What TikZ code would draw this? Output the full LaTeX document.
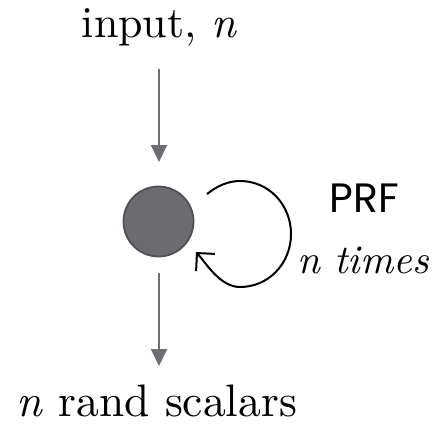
\documentclass[tikz,border=0pt]{standalone}
\usepackage{fontspec}
\setmainfont{lmroman10-regular.otf}[ItalicFont=lmroman10-italic.otf]
\newfontfamily\prffont{Poppins}
\usetikzlibrary{arrows.meta}

\definecolor{nodefill}{HTML}{6C6B70}
\definecolor{nodeedge}{HTML}{505055}
\definecolor{flowgray}{HTML}{6D6D72}

\tikzset{
  flow/.style={draw=flowgray, line width=2pt, -{Triangle[length=17pt,width=16pt]}},
  loopline/.style={draw=black, line width=2pt,
                   -{Straight Barb[angle=90:18pt,line width=2pt]}},
  bigtext/.style={inner sep=0pt, font=\fontsize{44}{50}\selectfont},
  state/.style={circle, fill=nodefill, draw=nodeedge, line width=1.8pt,
                minimum size=70pt, inner sep=0pt},
}

\begin{document}
\begin{tikzpicture}[x=1pt, y=-1pt]
  \useasboundingbox (0,0) rectangle (442,424);

  % labels
  \node[bigtext, anchor=base] (inp) at (159.5,37) {input, \textit{n}};
  \node[bigtext, anchor=base, font=\fontsize{45.5}{50}\selectfont] (out) at (157,416) {\textit{n} rand scalars};
  \node[inner sep=0pt, anchor=base, font=\prffont\fontsize{41}{46}\selectfont] (prf) at (364,212) {PRF};
  \node[inner sep=0pt, anchor=base west, font=\itshape\fontsize{40.5}{46}\selectfont] (times) at (297,273) {n times};

  % the generator state
  \node[state] (s) at (158.5,221.5) {};

  % flow in and out
  \coordinate (inTop) at (159,69);
  \coordinate (inTip) at (159,162);
  \coordinate (outTop) at (159,273);
  \coordinate (outTip) at (159,366);
  \draw[flow] (inTop) -- (inTip);
  \draw[flow] (outTop) -- (outTip);

  % self loop: PRF applied n times
  \coordinate (l0) at (207,194);
  \coordinate (l1) at (240,181);
  \coordinate (l2) at (291,234);
  \coordinate (l3) at (240,287);
  \coordinate (l4) at (196,252);
  \draw[loopline] (l0) .. controls (217,186) and (228,181) .. (l1)
                       .. controls (269,181) and (291,205) .. (l2)
                       .. controls (291,263) and (269,287) .. (l3)
                       .. controls (220,287) and (206,263) .. (l4);
\end{tikzpicture}
\end{document}
